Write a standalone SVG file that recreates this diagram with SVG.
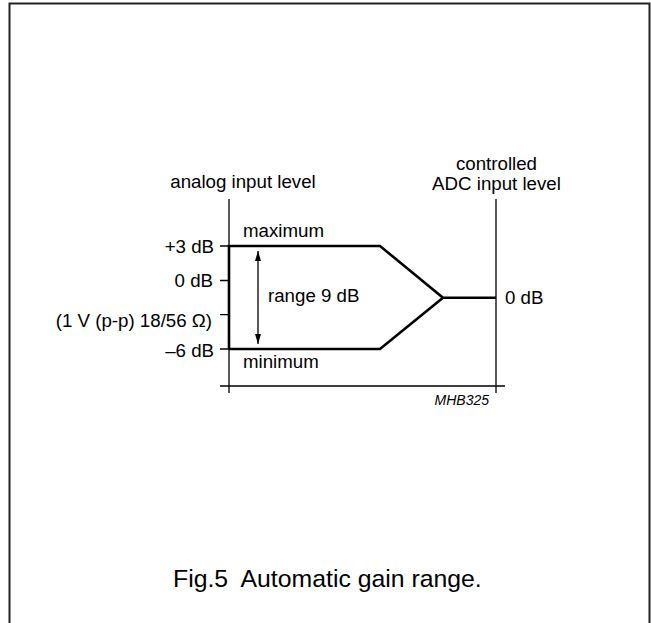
<svg xmlns="http://www.w3.org/2000/svg" width="651" height="623" viewBox="0 0 651 623">
<style>
text{font-family:"Liberation Sans",Arial,sans-serif;fill:#000;font-size:18.7px}
.thin{stroke:#000;stroke-width:1.3;fill:none}
.thick{stroke:#000;stroke-width:2.6;fill:none;stroke-linejoin:miter}
.r{text-anchor:end}
.m{text-anchor:middle}
</style>
<defs>
<marker id="ah" viewBox="0 0 10 6" refX="10" refY="3" markerWidth="10" markerHeight="6" markerUnits="userSpaceOnUse" orient="auto">
<path d="M0,0 L10,3 L0,6 Z" fill="#000"/>
</marker>
</defs>
<rect x="0" y="0" width="651" height="623" fill="#fff"/>
<path id="frame" d="M9.5,623 V3.5 H649.5 V623" fill="none" stroke="#222" stroke-width="2"/>
<g id="axes">
<path class="thin" d="M229,199 V393 M496,199 V393 M220,386 H505"/>
<path class="thin" d="M220,246 H229 M220,280.5 H229 M220,314.7 H229 M220,349 H229"/>
</g>
<g id="connectors">
<path class="thick" d="M229,349 V246 H380 L443,297.7 L380,349 H229 M443,297.7 H496"/>
<path class="thin" d="M258,297 V251" marker-end="url(#ah)"/>
<path class="thin" d="M258,297 V344" marker-end="url(#ah)"/>
</g>
<g id="labels">
<text x="243" y="237">maximum</text>
<text x="243" y="368">minimum</text>
<text x="214" y="252.5" class="r">+3 dB</text>
<text x="213" y="286.5" class="r">0 dB</text>
<text x="212" y="327" class="r">(1 V (p-p) 18/56 Ω)</text>
<text x="214" y="356.5" class="r">–6 dB</text>
<text x="268" y="302">range 9 dB</text>
<text x="505" y="303.5">0 dB</text>
<text x="243" y="188" class="m">analog input level</text>
<text x="496.5" y="169.5" class="m">controlled</text>
<text x="496.5" y="189.5" class="m">ADC input level</text>
<text x="489" y="405" class="r" style="font-size:14px;font-style:italic">MHB325</text>
</g>
<g id="caption">
<text x="173" y="587" xml:space="preserve" style="font-size:24.8px;white-space:pre">Fig.5  Automatic gain range.</text>
</g>
</svg>
